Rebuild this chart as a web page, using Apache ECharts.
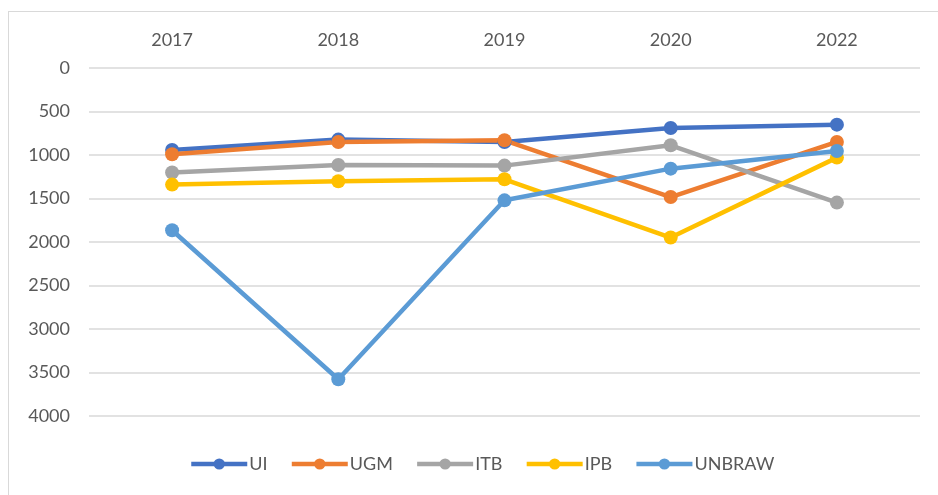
<!DOCTYPE html>
<html>
<head>
<meta charset="utf-8">
<script src="https://cdn.jsdelivr.net/npm/echarts@6/dist/echarts.min.js"></script>
<style>
  html, body { margin: 0; padding: 0; background: #fff; }
  #frame { position: absolute; left: 8px; top: 11px; width: 940px; height: 500px; border: 1px solid #d9d9d9; box-sizing: border-box; }
  #chart { position: absolute; left: 0; top: 0; width: 938px; height: 495px; }
</style>
</head>
<body>
<div id="frame"></div>
<div id="chart"></div>
<script>
// data (rank values, axis is inverted)
var years = ['2017', '2018', '2019', '2020', '2022'];
var ui     = [942, 823, 850, 690, 651];
var ugm    = [992, 850, 831, 1483, 850];
var itb    = [1202, 1115, 1122, 888, 1547];
var ipb    = [1340, 1302, 1279, 1949, 1030];
var unbraw = [1865, 3578, 1521, 1157, 954];

var names  = ['UI', 'UGM', 'ITB', 'IPB', 'UNBRAW'];
var colors = ['#4472C4', '#ED7D31', '#A5A5A5', '#FFC000', '#5B9BD5'];
var values = [ui, ugm, itb, ipb, unbraw];

var font = 'Lato, "Open Sans", sans-serif';

var series = names.map(function (n, i) {
  return {
    name: n,
    type: 'line',
    data: values[i],
    symbol: 'circle',
    symbolSize: 14,
    lineStyle: { width: 4.5, color: colors[i] },
    itemStyle: { color: colors[i] },
    emphasis: { disabled: true }
  };
});

var chart = echarts.init(document.getElementById('chart'));
chart.setOption({
  animation: false,
  color: colors,
  grid: { left: 89, right: 18, top: 68, bottom: 79 },
  legend: {
    bottom: 17,
    left: 184,
    itemWidth: 56,
    itemHeight: 14,
    itemGap: 22,
    lineStyle: { width: 4.5 },
    textStyle: { fontFamily: font, fontSize: 18, color: '#595959', padding: [0, 0, 0, -3] },
    data: names
  },
  xAxis: {
    type: 'category',
    position: 'top',
    data: years,
    boundaryGap: true,
    axisLine: { show: false },
    axisTick: { show: false },
    axisLabel: { fontFamily: font, fontSize: 18, color: '#595959', margin: 19 }
  },
  yAxis: {
    type: 'value',
    inverse: true,
    min: 0,
    max: 4000,
    interval: 500,
    axisLine: { show: false },
    axisTick: { show: false },
    axisLabel: { fontFamily: font, fontSize: 18, color: '#595959', margin: 19,
      formatter: function (v) { return String(v); } },
    splitLine: { lineStyle: { color: '#d9d9d9', width: 1.5 } }
  },
  series: series
});
</script>
</body>
</html>
